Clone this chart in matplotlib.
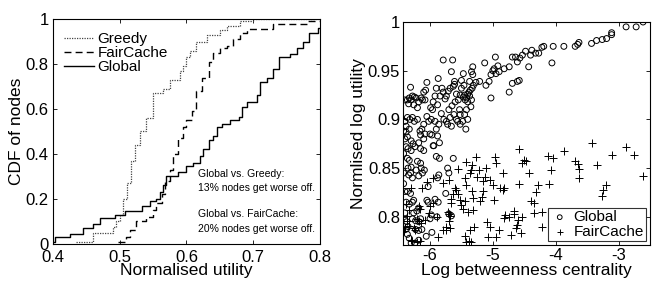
import matplotlib
matplotlib.use("Agg")
import matplotlib.pyplot as plt

plt.rcParams['font.family'] = ['Liberation Sans', 'DejaVu Sans']

# ---- Left: CDF breakpoints (x = normalised utility, y = CDF) ----
greedy_x = [0.435, 0.46, 0.49, 0.495, 0.50, 0.505, 0.511, 0.517, 0.523, 0.53, 0.54, 0.55,
            0.565, 0.575, 0.59, 0.595, 0.60, 0.605, 0.615, 0.63, 0.65, 0.66, 0.68, 0.70, 0.80]
greedy_y = [0.01, 0.05, 0.075, 0.10, 0.13, 0.20, 0.27, 0.37, 0.44, 0.50, 0.56, 0.67,
            0.69, 0.73, 0.77, 0.79, 0.83, 0.86, 0.90, 0.93, 0.95, 0.97, 0.99, 1.0, 1.0]

fair_x = [0.497, 0.51, 0.515, 0.525, 0.54, 0.55, 0.555, 0.563, 0.568, 0.575, 0.58, 0.588,
          0.595, 0.60, 0.608, 0.615, 0.623, 0.633, 0.64, 0.65, 0.66, 0.67, 0.68, 0.69,
          0.73, 0.78, 0.80]
fair_y = [0.01, 0.03, 0.06, 0.10, 0.12, 0.15, 0.18, 0.22, 0.28, 0.33, 0.40, 0.47,
          0.52, 0.55, 0.59, 0.68, 0.74, 0.81, 0.85, 0.87, 0.88, 0.91, 0.94, 0.955,
          0.98, 0.99, 0.99]

global_x = [0.40, 0.403, 0.425, 0.445, 0.46, 0.47, 0.493, 0.508, 0.533, 0.545, 0.555, 0.56,
            0.565, 0.57, 0.588, 0.60, 0.61, 0.62, 0.625, 0.633, 0.64, 0.645, 0.653, 0.665,
            0.678, 0.683, 0.69, 0.705, 0.71, 0.72, 0.73, 0.738, 0.755, 0.765, 0.775, 0.783,
            0.797, 0.80]
global_y = [0.01, 0.03, 0.045, 0.07, 0.09, 0.115, 0.13, 0.145, 0.17, 0.19, 0.20, 0.23,
            0.26, 0.30, 0.32, 0.345, 0.36, 0.39, 0.42, 0.46, 0.48, 0.52, 0.535, 0.55,
            0.565, 0.61, 0.63, 0.66, 0.72, 0.74, 0.78, 0.83, 0.845, 0.87, 0.90, 0.94,
            0.96, 0.96]

left_xticks = [0.4, 0.5, 0.6, 0.7, 0.8]
left_yticks = [0, 0.2, 0.4, 0.6, 0.8, 1]
left_yticklabels = ["0", "0.2", "0.4", "0.6", "0.8", "1"]

# ---- Right: scatter (log betweenness centrality, normalised log utility) ----
glob_pts = [
    (-2.61, 1.000), (-2.72, 0.995), (-2.88, 0.995), (-3.11, 0.989), (-3.11, 0.987), (-3.19, 0.983),
    (-3.26, 0.982), (-3.35, 0.981), (-3.43, 0.978), (-3.63, 0.979), (-3.65, 0.977), (-3.69, 0.975),
    (-3.87, 0.975), (-4.04, 0.975), (-4.06, 0.958), (-4.19, 0.975), (-4.22, 0.974), (-4.27, 0.968),
    (-4.32, 0.968), (-4.38, 0.971), (-4.40, 0.966), (-4.43, 0.954), (-4.48, 0.970), (-4.53, 0.966),
    (-4.57, 0.963), (-4.61, 0.959), (-4.64, 0.964), (-4.69, 0.964), (-4.58, 0.940), (-4.61, 0.939),
    (-4.69, 0.937), (-4.74, 0.928), (-4.74, 0.954), (-4.82, 0.952), (-4.90, 0.949), (-4.96, 0.964),
    (-4.92, 0.955), (-4.98, 0.952), (-5.00, 0.950), (-4.95, 0.947), (-5.03, 0.946), (-5.13, 0.958),
    (-5.06, 0.939), (-5.11, 0.935), (-5.03, 0.922), (-5.21, 0.939), (-5.27, 0.938), (-5.32, 0.954),
    (-5.34, 0.949), (-5.32, 0.946), (-5.37, 0.939), (-5.31, 0.935), (-5.33, 0.932),
    (-5.36, 0.930), (-5.38, 0.928), (-5.40, 0.926), (-5.37, 0.924), (-5.42, 0.922), (-5.34, 0.920),
    (-5.40, 0.918), (-5.44, 0.920), (-5.45, 0.925), (-5.47, 0.947), (-5.50, 0.940), (-5.46, 0.935),
    (-5.50, 0.932), (-5.52, 0.925), (-5.47, 0.923), (-5.58, 0.926), (-5.55, 0.920), (-5.42, 0.910),
    (-5.35, 0.913), (-5.45, 0.905), (-5.40, 0.900), (-5.48, 0.898), (-5.43, 0.890), (-5.66, 0.949),
    (-5.64, 0.961), (-5.61, 0.939), (-5.61, 0.936), (-5.63, 0.934), (-5.68, 0.932), (-5.71, 0.929),
    (-5.74, 0.924), (-5.76, 0.921), (-5.79, 0.928), (-5.81, 0.932), (-5.79, 0.961), (-5.87, 0.942),
    (-5.90, 0.932), (-5.92, 0.924), (-5.84, 0.924), (-5.60, 0.918), (-5.65, 0.914), (-5.70, 0.910),
    (-5.62, 0.905), (-5.58, 0.900), (-5.68, 0.902), (-5.74, 0.898), (-5.78, 0.900), (-5.72, 0.895),
    (-5.66, 0.893), (-5.56, 0.898), (-5.52, 0.895), (-5.52, 0.905), (-5.53, 0.910), (-5.82, 0.906),
    (-5.88, 0.915), (-5.95, 0.918), (-5.96, 0.910), (-5.99, 0.912), (-6.05, 0.938), (-6.07, 0.930),
    (-6.10, 0.928), (-6.12, 0.920), (-6.08, 0.920), (-6.14, 0.922), (-6.18, 0.918), (-6.22, 0.922),
    (-6.25, 0.923), (-6.28, 0.924), (-6.30, 0.920), (-6.33, 0.922), (-6.36, 0.920), (-6.40, 0.920),
    (-6.31, 0.933), (-6.34, 0.916), (-6.26, 0.915), (-6.20, 0.912), (-6.02, 0.898), (-6.05, 0.903),
    (-5.98, 0.900), (-5.92, 0.898), (-5.90, 0.890), (-5.86, 0.895), (-6.10, 0.895), (-6.13, 0.890),
    (-6.16, 0.888), (-6.08, 0.885), (-6.15, 0.884), (-6.10, 0.880), (-6.00, 0.885), (-5.97, 0.884),
    (-6.20, 0.900), (-6.25, 0.898), (-6.28, 0.902), (-6.32, 0.900), (-6.36, 0.902), (-6.40, 0.898),
    (-6.38, 0.893), (-6.33, 0.890), (-6.38, 0.887), (-6.42, 0.888), (-6.36, 0.882), (-6.40, 0.880),
    (-6.30, 0.878), (-6.27, 0.875), (-6.24, 0.872), (-6.18, 0.876), (-6.10, 0.868), (-6.15, 0.870),
    (-6.30, 0.868), (-6.35, 0.870), (-6.38, 0.872), (-5.95, 0.873), (-5.85, 0.876), (-5.88, 0.883),
    (-6.42, 0.865), (-6.42, 0.845), (-6.42, 0.834), (-6.40, 0.826), (-6.38, 0.815), (-6.40, 0.804),
    (-6.37, 0.795), (-6.35, 0.790), (-6.39, 0.787), (-6.36, 0.782), (-6.33, 0.778), (-6.30, 0.773),
    (-6.36, 0.860), (-6.33, 0.858), (-6.35, 0.850), (-6.30, 0.851), (-6.34, 0.843), (-6.31, 0.845),
    (-6.28, 0.840), (-6.36, 0.826), (-6.31, 0.824), (-6.33, 0.813), (-6.28, 0.815), (-6.26, 0.817),
    (-6.26, 0.804), (-6.21, 0.806), (-6.18, 0.809), (-6.28, 0.798), (-6.23, 0.796), (-6.18, 0.795),
    (-6.15, 0.798), (-6.23, 0.787), (-6.13, 0.787), (-6.18, 0.786), (-6.18, 0.776), (-6.24, 0.773),
    (-6.20, 0.857), (-6.15, 0.855), (-6.22, 0.848), (-6.14, 0.850), (-6.09, 0.848), (-6.18, 0.842),
    (-6.12, 0.845), (-6.03, 0.831), (-6.05, 0.817), (-6.03, 0.815), (-5.88, 0.840), (-5.86, 0.843),
    (-5.85, 0.860), (-5.90, 0.862), (-5.72, 0.850), (-5.70, 0.845), (-5.63, 0.860), (-5.75, 0.824),
    (-5.89, 0.800), (-5.70, 0.803), (-5.66, 0.801), (-5.87, 0.815), (-5.92, 0.818), (-5.98, 0.802),
    (-6.00, 0.798), (-6.06, 0.780), (-5.97, 0.784), (-5.94, 0.873),
]
fair_pts = [
    (-2.61, 0.842), (-2.75, 0.863), (-2.88, 0.872), (-3.11, 0.863), (-3.24, 0.828), (-3.20, 0.833),
    (-3.27, 0.821), (-3.35, 0.853), (-3.43, 0.876), (-3.63, 0.849), (-3.65, 0.854), (-3.69, 0.857),
    (-3.63, 0.840), (-3.87, 0.868), (-4.07, 0.848), (-4.10, 0.834), (-4.05, 0.860), (-4.12, 0.862),
    (-4.28, 0.833), (-4.32, 0.825), (-4.35, 0.814), (-4.35, 0.804), (-4.22, 0.805), (-4.22, 0.790),
    (-4.43, 0.845), (-4.48, 0.857), (-4.53, 0.855), (-4.51, 0.858), (-4.58, 0.870), (-4.59, 0.834),
    (-4.56, 0.783), (-4.71, 0.781), (-4.66, 0.803), (-4.67, 0.806), (-4.61, 0.792), (-4.63, 0.788),
    (-4.80, 0.802), (-4.82, 0.799), (-4.84, 0.845), (-4.82, 0.830), (-4.84, 0.828), (-4.97, 0.861),
    (-4.95, 0.855), (-4.90, 0.786), (-4.95, 0.779), (-5.08, 0.779), (-5.12, 0.841), (-5.05, 0.838),
    (-5.11, 0.850), (-5.00, 0.833), (-5.17, 0.820), (-5.16, 0.826), (-5.20, 0.816), (-5.27, 0.861),
    (-5.33, 0.853), (-5.35, 0.848), (-5.37, 0.845), (-5.42, 0.833), (-5.33, 0.827), (-5.31, 0.819),
    (-5.32, 0.807), (-5.37, 0.786), (-5.38, 0.775), (-5.34, 0.774), (-5.42, 0.774), (-5.45, 0.780),
    (-5.40, 0.805), (-5.47, 0.808), (-5.45, 0.816), (-5.50, 0.812), (-5.55, 0.849), (-5.59, 0.828),
    (-5.63, 0.823), (-5.66, 0.818), (-5.67, 0.814), (-5.69, 0.803), (-5.72, 0.805), (-5.68, 0.801),
    (-5.74, 0.786), (-5.68, 0.789), (-5.79, 0.786), (-5.74, 0.790), (-5.87, 0.779), (-5.89, 0.800),
    (-5.95, 0.814), (-6.00, 0.811), (-6.02, 0.804), (-6.05, 0.836), (-6.08, 0.797), (-6.18, 0.811),
    (-6.16, 0.808), (-6.20, 0.798), (-6.17, 0.796), (-6.14, 0.794), (-6.24, 0.786), (-6.26, 0.788),
    (-6.31, 0.776), (-6.29, 0.775), (-6.20, 0.774), (-6.16, 0.775), (-6.36, 0.796), (-6.34, 0.791),
    (-6.37, 0.801), (-6.34, 0.807), (-6.39, 0.813), (-6.40, 0.790), (-6.41, 0.785), (-5.96, 0.840),
    (-5.70, 0.838), (-5.80, 0.835), (-5.60, 0.830), (-5.55, 0.823), (-5.45, 0.840), (-5.42, 0.856),
    (-5.25, 0.841), (-5.22, 0.848), (-5.15, 0.837), (-4.88, 0.830), (-4.75, 0.800), (-4.60, 0.797),
    (-4.53, 0.800), (-5.05, 0.790), (-5.10, 0.795), (-5.70, 0.796), (-6.30, 0.830), (-6.12, 0.830),
    (-5.52, 0.817), (-5.30, 0.790), (-4.98, 0.817), (-4.40, 0.816),
]
right_xticks = [-6, -5, -4, -3]
right_yticks = [0.8, 0.85, 0.9, 0.95, 1.0]
right_yticklabels = ["0.8", "0.85", "0.9", "0.95", "1"]

fig = plt.figure(figsize=(6.6, 2.82), dpi=100)
ax1 = fig.add_axes([0.0803, 0.1348, 0.4045, 0.7978])
ax2 = fig.add_axes([0.6106, 0.131, 0.3742, 0.791])

for ax in (ax1, ax2):
    ax.tick_params(direction='in', top=True, right=True, length=3, width=0.6,
                   labelsize=12, pad=2, colors='black')
    for s in ax.spines.values():
        s.set_linewidth(0.8)

ax1.tick_params(axis='x', pad=4)
ax1.tick_params(axis='y', pad=3)
ax1.step(greedy_x, greedy_y, where='post', color='#444444', linestyle=(0, (1, 1)), lw=0.9, label='Greedy')
ax1.step(fair_x, fair_y, where='post', color='black', linestyle=(0, (5, 3)), lw=1.0, label='FairCache')
ax1.step(global_x, global_y, where='post', color='black', linestyle='-', lw=1.0, label='Global')
ax1.set_xlim(0.4, 0.8)
ax1.set_ylim(0, 1)
ax1.set_xticks(left_xticks)
ax1.set_xticklabels([f"{v:g}" for v in left_xticks])
ax1.set_yticks(left_yticks)
ax1.set_yticklabels(left_yticklabels)
ax1.set_xlabel("Normalised utility", fontsize=12.5, labelpad=-1)
ax1.set_ylabel("CDF of nodes", fontsize=12.5, labelpad=1)
ax1.legend(loc='upper left', frameon=False, fontsize=11, handlelength=2.0,
           handletextpad=0.2, labelspacing=0.0, borderaxespad=0.3, bbox_to_anchor=(0.0, 0.99))
ax1.text(0.545, 0.335, "Global vs. Greedy:\n13% nodes get worse off.", transform=ax1.transAxes,
         fontsize=7.5, va='top', ha='left', linespacing=1.55)
ax1.text(0.545, 0.155, "Global vs. FairCache:\n20% nodes get worse off.", transform=ax1.transAxes,
         fontsize=7.5, va='top', ha='left', linespacing=1.55)

gx = [p[0] for p in glob_pts]
gy = [p[1] for p in glob_pts]
fx = [p[0] for p in fair_pts]
fy = [p[1] for p in fair_pts]
ax2.scatter(gx, gy, s=18, facecolors='none', edgecolors='black', linewidths=0.7, label='Global')
ax2.scatter(fx, fy, s=36, marker='+', color='black', linewidths=0.7, label='FairCache')
ax2.set_xlim(-6.43, -2.5)
ax2.set_ylim(0.771, 1.0)
ax2.set_xticks(right_xticks)
ax2.set_xticklabels([str(v) for v in right_xticks])
ax2.set_yticks(right_yticks)
ax2.set_yticklabels(right_yticklabels)
ax2.set_xlabel("Log betweenness centrality", fontsize=12.5, labelpad=0)
ax2.set_ylabel("Normlised log utility", fontsize=12.5, labelpad=1)
leg = ax2.legend(loc='lower right', fontsize=11, frameon=True, fancybox=False,
                 edgecolor='black', handletextpad=0.3, borderpad=0.15, labelspacing=0.05,
                 borderaxespad=0.25, handlelength=1.2, markerscale=0.8)
leg.get_frame().set_linewidth(0.8)

fig.savefig("out.png", dpi=100)
